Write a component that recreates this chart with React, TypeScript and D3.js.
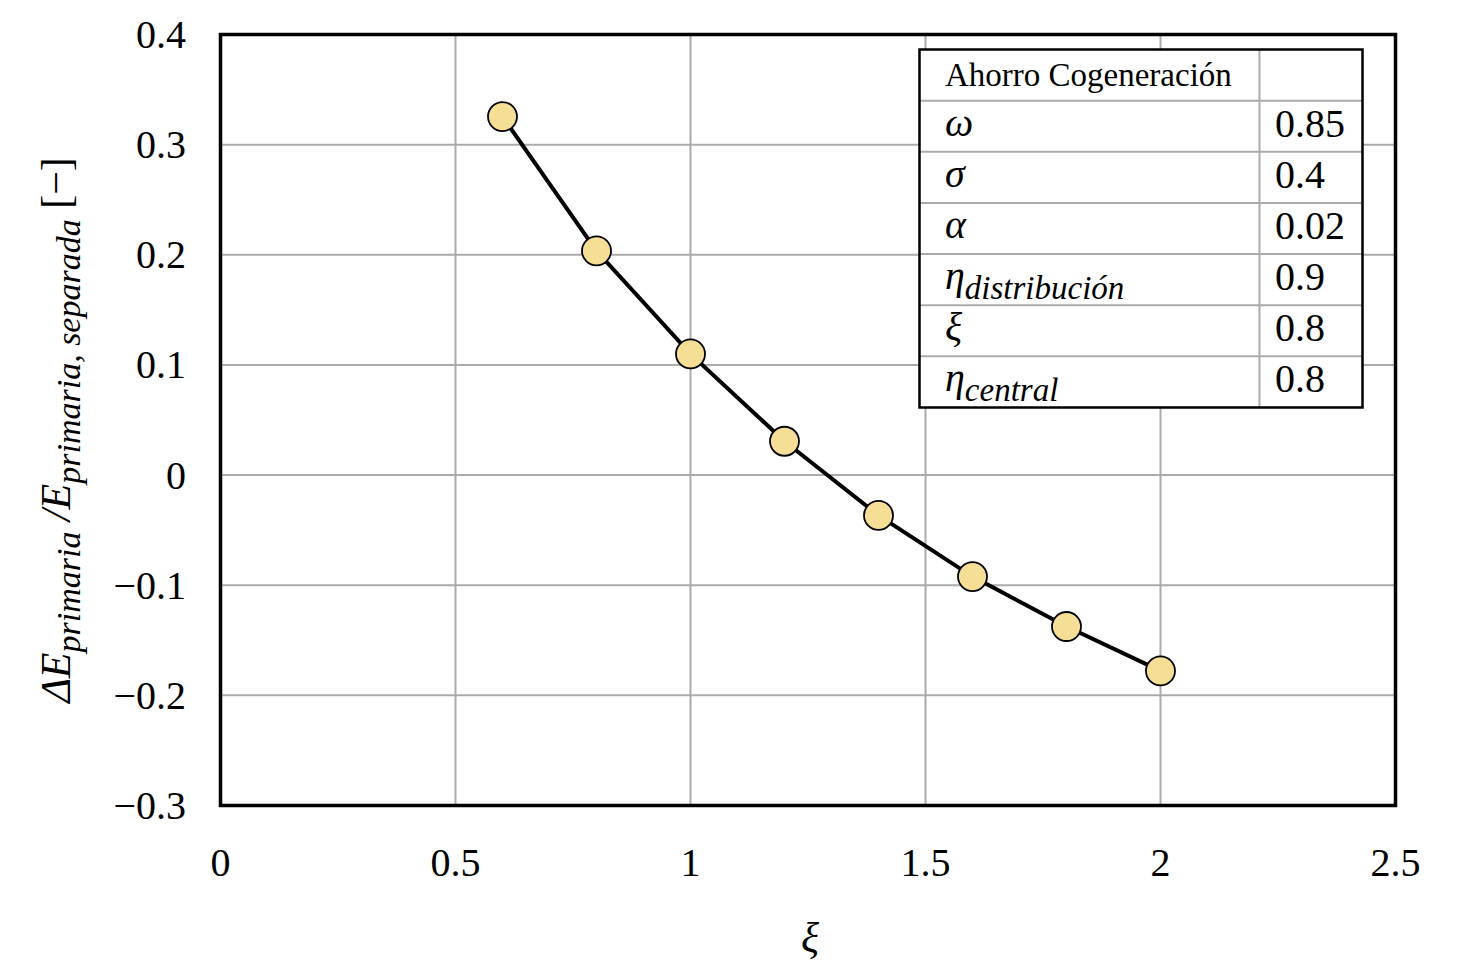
import React from "react";
import * as d3 from "d3";

// datos
const xiValues = [0.6, 0.8, 1.0, 1.2, 1.4, 1.6, 1.8, 2.0];
const ahorro = [0.3255, 0.2035, 0.110, 0.0307, -0.0366, -0.0922, -0.1375, -0.1778];
const xTicks = [0, 0.5, 1, 1.5, 2, 2.5];
const yTicks = [0.4, 0.3, 0.2, 0.1, 0, -0.1, -0.2, -0.3];

const tableTitle = "Ahorro Cogeneración";
const paramSymbols = ["ω", "σ", "α", "η", "ξ", "η"];
const paramSubs = ["", "", "", "distribución", "", "central"];
const paramValues = ["0.85", "0.4", "0.02", "0.9", "0.8", "0.8"];

const W = 1475;
const H = 968;
const FONT = "'Liberation Serif', 'Times New Roman', serif";

export default function App() {
  const x = d3.scaleLinear().domain([0, 2.5]).range([220.5, 1395.5]);
  const y = d3.scaleLinear().domain([-0.3, 0.4]).range([805.5, 34.5]);

  const pts = xiValues.map((v, i) => [v, ahorro[i]] as [number, number]);
  const line = d3
    .line<[number, number]>()
    .x((d) => x(d[0]))
    .y((d) => y(d[1]));

  const fmt = (v: number) => (v < 0 ? "\u2212" + String(-v) : String(v));

  // tabla de parametros
  const tLeft = 919.5;
  const tRight = 1362.5;
  const tDiv = 1259.5;
  const rows = d3
    .scaleBand<number>()
    .domain(d3.range(paramSymbols.length + 1))
    .range([49.5, 407.5]);

  return (
    <svg
      width={W}
      height={H}
      style={{ position: "absolute", left: 0, top: 0, background: "#fff" }}
      fontFamily={FONT}
    >
      {/* rejilla */}
      <g stroke="#ababab" strokeWidth={2}>
        {xTicks.slice(1, -1).map((t) => (
          <line key={"gx" + t} x1={x(t)} x2={x(t)} y1={y(0.4)} y2={y(-0.3)} />
        ))}
        {yTicks.slice(1, -1).map((t) => (
          <line key={"gy" + t} x1={x(0)} x2={x(2.5)} y1={y(t)} y2={y(t)} />
        ))}
      </g>

      {/* marco */}
      <rect
        x={x(0)}
        y={y(0.4)}
        width={x(2.5) - x(0)}
        height={y(-0.3) - y(0.4)}
        fill="none"
        stroke="#000"
        strokeWidth={3.5}
      />

      {/* etiquetas de ejes */}
      <g fontSize={40} fill="#000">
        {yTicks.map((t) => (
          <text key={"ty" + t} x={186} y={y(t)} textAnchor="end" dominantBaseline="central">
            {fmt(t)}
          </text>
        ))}
        {xTicks.map((t) => (
          <text key={"tx" + t} x={x(t)} y={876} textAnchor="middle">
            {fmt(t)}
          </text>
        ))}
      </g>

      <text x={810} y={952} textAnchor="middle" fontSize={42} fontStyle="italic">
        ξ
      </text>

      <text
        transform="translate(70,430) rotate(-90)"
        textAnchor="middle"
        fontSize={42}
        fontStyle="italic"
      >
        <tspan>ΔE</tspan>
        <tspan fontSize={34} dy={10}>primaria</tspan>
        <tspan dy={-10}> /E</tspan>
        <tspan fontSize={34} dy={10}>primaria, separada</tspan>
        <tspan dy={-10} fontStyle="normal"> [−]</tspan>
      </text>

      {/* curva */}
      <path d={line(pts) || ""} fill="none" stroke="#000" strokeWidth={4} />
      {pts.map((d, i) => (
        <circle
          key={"p" + i}
          cx={x(d[0])}
          cy={y(d[1])}
          r={14.5}
          fill="#f5df96"
          stroke="#000"
          strokeWidth={1.8}
        />
      ))}

      {/* tabla */}
      <g>
        <rect
          x={tLeft}
          y={rows(0)}
          width={tRight - tLeft}
          height={rows.range()[1] - rows.range()[0]}
          fill="#fff"
        />
        <g stroke="#ababab" strokeWidth={2}>
          {d3.range(1, paramSymbols.length + 1).map((i) => (
            <line key={"rl" + i} x1={tLeft} x2={tRight} y1={rows(i)} y2={rows(i)} />
          ))}
          <line x1={tDiv} x2={tDiv} y1={rows(0)} y2={rows.range()[1]} />
        </g>
        <rect
          x={tLeft}
          y={rows(0)}
          width={tRight - tLeft}
          height={rows.range()[1] - rows.range()[0]}
          fill="none"
          stroke="#000"
          strokeWidth={2.5}
        />
        <text x={945} y={(rows(0) as number) + 36} fontSize={33}>
          {tableTitle}
        </text>
        {paramSymbols.map((s, i) => {
          const top = rows(i + 1) as number;
          return (
            <g key={"row" + i}>
              <text x={945} y={top + 35} fontSize={40} fontStyle="italic">
                <tspan>{s}</tspan>
                {paramSubs[i] ? (
                  <tspan fontSize={33} dy={10}>
                    {paramSubs[i]}
                  </tspan>
                ) : null}
              </text>
              <text x={1275} y={top + 36} fontSize={40}>
                {paramValues[i]}
              </text>
            </g>
          );
        })}
      </g>
    </svg>
  );
}
